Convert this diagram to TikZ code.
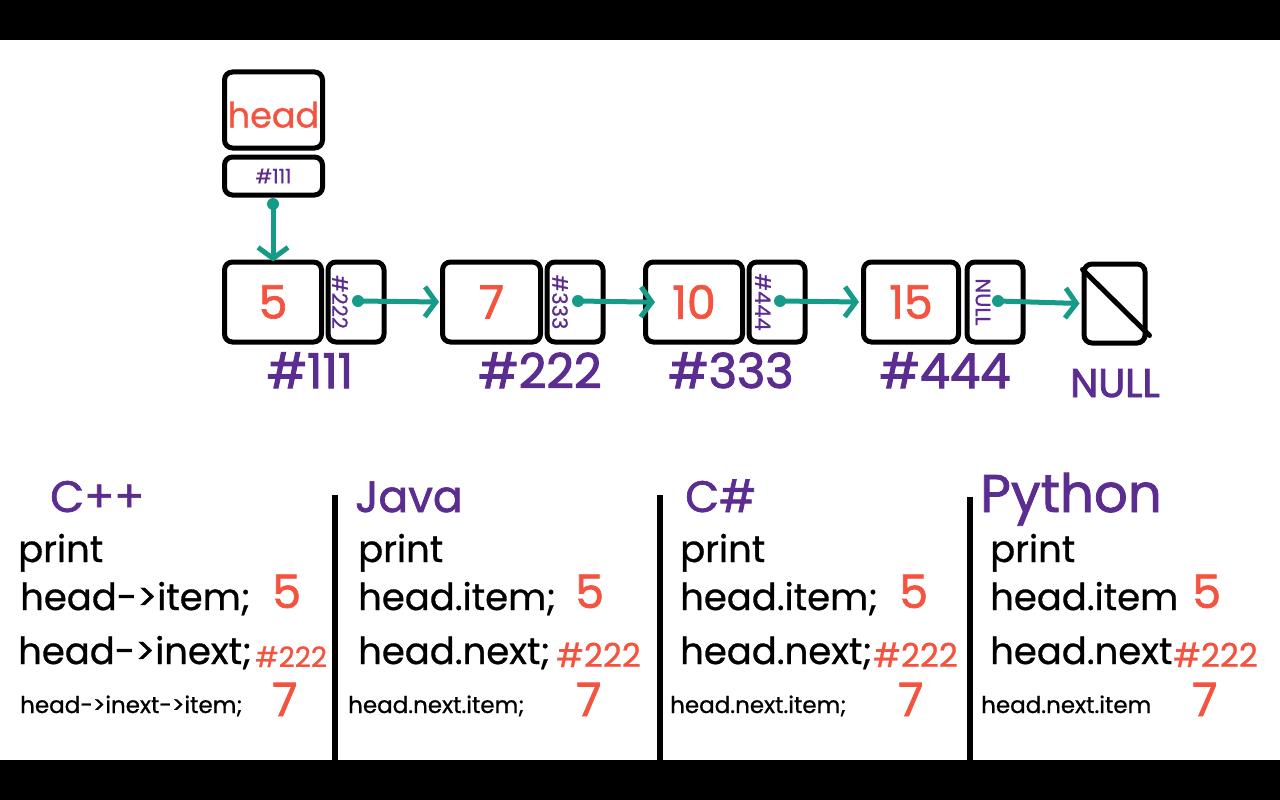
\documentclass[tikz,border=0pt]{standalone}
\usepackage{fontspec}
\setmainfont{Poppins}[FakeBold=0.8]
\newfontfamily\semib{Poppins}[FakeBold=2.2]
\newfontfamily\medf{Poppins}[FakeBold=1.5]
\usetikzlibrary{arrows.meta}
\definecolor{redn}{HTML}{F4533F}
\definecolor{purp}{HTML}{5C2D91}
\definecolor{tealc}{HTML}{179B89}
\begin{document}
\begin{tikzpicture}[x=1pt,y=-1pt,
  box/.style={draw=black, line width=5pt, rounded corners=8pt, inner sep=0pt, fill=white},
  val/.style={text=redn, font=\medf\fontsize{46}{46}\selectfont},
  ptr/.style={text=purp, rotate=-90, font=\fontsize{21}{21}\selectfont, inner sep=0pt},
  addr/.style={text=purp, font=\semib\fontsize{48}{48}\selectfont, inner sep=0pt, anchor=base},
  link/.style={draw=tealc, line width=5pt, -{Straight Barb[length=11pt,width=30pt,line width=5pt]}},
  dotc/.style={circle, fill=tealc, inner sep=0pt, minimum size=12pt},
  code/.style={anchor=base west, inner sep=0pt, font=\fontsize{37}{37}\selectfont},
  small/.style={anchor=base west, inner sep=0pt, font=\fontsize{23}{23}\selectfont},
  lang/.style={anchor=base west, inner sep=0pt, text=purp, font=\medf\fontsize{44}{44}\selectfont},
  res/.style={anchor=base west, inner sep=0pt, text=redn, font=\medf\fontsize{46}{46}\selectfont},
  resh/.style={anchor=base west, inner sep=0pt, text=redn, font=\fontsize{33}{33}\selectfont},
  sep/.style={line width=6pt, draw=black}
]
\useasboundingbox (0,0) rectangle (1280,800);
\fill[white] (0,0) rectangle (1280,800);
\fill[black] (0,0) rectangle (1280,40);
\fill[black] (0,760) rectangle (1280,800);

% head
\node[box, minimum width=98, minimum height=76, text=redn, font=\fontsize{35}{35}\selectfont] (head) at (273.5,110) {\raisebox{0pt}[35pt][0pt]{head}};
\node[box, minimum width=98, minimum height=38, text=purp, font=\fontsize{20}{20}\selectfont] (hptr) at (273.5,176) {\#111};

% list nodes
\node[box, minimum width=97, minimum height=80, val] (d1) at (273,302) {5};
\node[box, minimum width=56, minimum height=80] (p1) at (356,302) {};
\node[box, minimum width=98, minimum height=80, val] (d2) at (491.5,302) {7};
\node[box, minimum width=56, minimum height=80] (p2) at (575,302) {};
\node[box, minimum width=97, minimum height=80, val] (d3) at (694,302) {10};
\node[box, minimum width=56, minimum height=80] (p3) at (777,302) {};
\node[box, minimum width=95, minimum height=80, val] (d4) at (911,302) {15};
\node[box, minimum width=56, minimum height=80] (p4) at (995,302) {};
\node[box, minimum width=61, minimum height=79] (nb) at (1114.5,303.5) {};
\draw[line width=5pt, line cap=round] (nb.north west) ++(1,8) coordinate (n1) -- ([shift={(2,-10)}]nb.south east) coordinate (n2);

% pointer texts
\node[ptr] (t1) at (340,302) {\#222};
\node[ptr] (t2) at (560,302) {\#333};
\node[ptr] (t3) at (763,302) {\#444};
\node[ptr] (t4) at (983,302) {NULL};

% connectors
\coordinate (c0) at (273,204);
\coordinate (c1) at (358,301);
\coordinate (c2) at (578,301);
\coordinate (c3) at (780,301);
\coordinate (c4) at (998,301);
\draw[link] (c0) -- ([yshift=-2]d1.north);
\draw[link] (c1) -- ([xshift=-1]d2.west);
\draw[link, shorten >=-12pt] (c2) -- (d3.west);
\draw[link] (c3) -- ([xshift=-2]d4.west);
\draw[link] (c4) -- ([xshift=-2]nb.west);
\foreach \c in {c0,c1,c2,c3,c4} \node[dotc] at (\c) {};

% addresses
\node[addr] (a1) at (310,388) {\#111};
\node[addr] (a2) at (540,388) {\#222};
\node[addr] (a3) at (731,388) {\#333};
\node[addr] (a4) at (945,388) {\#444};
\node[addr, font=\semib\fontsize{40}{40}\selectfont] (a5) at (1115,397) {NULL};

% separators
\draw[sep] (335,495) -- (335,760);
\draw[sep] (660,495) -- (660,760);
\draw[sep] (970,497) -- (970,760);

% C++
\node[lang] (l1) at (50,512) {C++};
\node[code] (c1p) at (18,562) {print};
\node[code] (c1a) at (20,610) {head->item;};
\node[res] (c1r) at (272,608) {5};
\node[code] (c1b) at (18,664) {head->inext;};
\node[resh, font=\fontsize{28}{28}\selectfont] (c1s) at (255,667) {\#222};
\node[small] (c1c) at (20,713) {head->inext->item;};
\node[res] (c1t) at (272,716) {7};

% Java
\node[lang] (l2) at (355,512) {Java};
\node[code] (c2p) at (358,562) {print};
\node[code] (c2a) at (358,610) {head.item;};
\node[res] (c2r) at (575,608) {5};
\node[code] (c2b) at (358,664) {head.next;};
\node[resh] (c2s) at (556,667) {\#222};
\node[small] (c2c) at (348,713) {head.next.item;};
\node[res] (c2t) at (576,716) {7};

% C#
\node[lang] (l3) at (685,512) {C\#};
\node[code] (c3p) at (680,562) {print};
\node[code] (c3a) at (680,610) {head.item;};
\node[res] (c3r) at (899,608) {5};
\node[code] (c3b) at (680,664) {head.next;};
\node[resh] (c3s) at (873,667) {\#222};
\node[small] (c3c) at (670,713) {head.next.item;};
\node[res] (c3t) at (898,716) {7};

% Python
\node[lang, font=\medf\fontsize{53}{53}\selectfont] (l4) at (980,512) {Python};
\node[code] (c4p) at (990,562) {print};
\node[code] (c4a) at (990,610) {head.item};
\node[res] (c4r) at (1192,608) {5};
\node[code] (c4b) at (990,664) {head.next};
\node[resh] (c4s) at (1173,667) {\#222};
\node[small] (c4c) at (981,713) {head.next.item};
\node[res] (c4t) at (1192,716) {7};
\end{tikzpicture}
\end{document}
